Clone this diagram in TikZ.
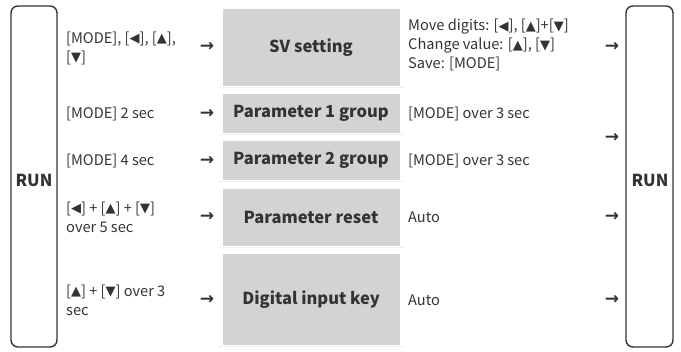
\documentclass[tikz,border=0pt]{standalone}
\usepackage{fontspec}
\setmainfont{Noto Sans CJK KR}
\newfontfamily\symfont{DejaVu Sans}
\usetikzlibrary{positioning}

\definecolor{boxgray}{HTML}{D3D3D3}
\definecolor{inkgray}{HTML}{333333}

\tikzset{
  runbox/.style={draw=inkgray, line width=1.4pt, rounded corners=7pt},
  modebox/.style={fill=boxgray, minimum width=177pt, inner sep=0pt,
    font=\fontsize{16.5}{18}\selectfont\bfseries, text=inkgray},
  keytext/.style={anchor=west, align=left, inner sep=0pt,
    font=\fontsize{14.6}{19}\selectfont, text=inkgray},
  arrowtext/.style={inner sep=0pt, font=\symfont\bfseries\fontsize{17}{18}\selectfont, text=inkgray},
  runtext/.style={font=\fontsize{16.5}{18}\selectfont\bfseries, text=inkgray}
}

\newcommand{\tri}[1]{[\raisebox{0.3pt}{\symfont\fontsize{13}{14}\selectfont\char"#1}]}
\newcommand{\kl}{\tri{25C0}}
\newcommand{\ku}{\tri{25B2}}
\newcommand{\kd}{\tri{25BC}}

\begin{document}
\begin{tikzpicture}[x=1pt, y=-1pt]
  \useasboundingbox (0,0) rectangle (681,352);

  % run state, left and right
  \draw[runbox] (11,6) rectangle (57,347);
  \draw[runbox] (626,6) rectangle (673,347);
  \node (runl) [runtext] at (34,180) {RUN};
  \node (runr) [runtext] at (650,180) {RUN};

  % mode boxes
  \node (sv) [modebox, minimum height=77pt] at (311,47.5) {SV setting};
  \node (pone) [modebox, minimum height=39pt] at (311,113.5) {Parameter 1 group};
  \node (ptwo) [modebox, minimum height=39pt] at (311,160.5) {Parameter 2 group};
  \node (preset) [modebox, minimum height=57pt] at (311,217.5) {Parameter reset};
  \node (dkey) [modebox, minimum height=91pt] at (311,299.5) {Digital input key};
  \foreach \n in {sv,pone,ptwo,preset,dkey}
    \draw[black!6, line width=1.2pt] ([xshift=-4pt,yshift=-1.5pt]\n.south west) -- ([xshift=4pt,yshift=-1.5pt]\n.south east);

  % keys to enter
  \node (ksv) [keytext] at (66,48) {[MODE], \kl, \ku,\\\kd};
  \node (kpone) [keytext] at (66,114) {[MODE] 2 sec};
  \node (kptwo) [keytext] at (66,161) {[MODE] 4 sec};
  \node (kreset) [keytext] at (66,217) {\kl{} + \ku{} + \kd\\over 5 sec};
  \node (kdkey) [keytext] at (66,300) {\ku{} + \kd{} over 3\\sec};

  \node (asv) [arrowtext] at (207,47) {→};
  \node (apone) [arrowtext] at (207,114) {→};
  \node (aptwo) [arrowtext] at (207,161) {→};
  \node (areset) [arrowtext] at (207,217) {→};
  \node (adkey) [arrowtext] at (207,300) {→};

  % keys to leave
  \node (osv) [keytext] at (408,45) {Move digits: \kl, \ku{}+\kd\\Change value: \ku, \kd\\Save: [MODE]};
  \node (opone) [keytext] at (408,114) {[MODE] over 3 sec};
  \node (optwo) [keytext] at (408,161) {[MODE] over 3 sec};
  \node (oreset) [keytext] at (408,217) {Auto};
  \node (odkey) [keytext] at (408,300) {Auto};

  \node (bsv) [arrowtext] at (612,47) {→};
  \node (bparam) [arrowtext] at (612,138) {→};
  \node (breset) [arrowtext] at (612,217) {→};
  \node (bdkey) [arrowtext] at (612,300) {→};
\end{tikzpicture}
\end{document}
